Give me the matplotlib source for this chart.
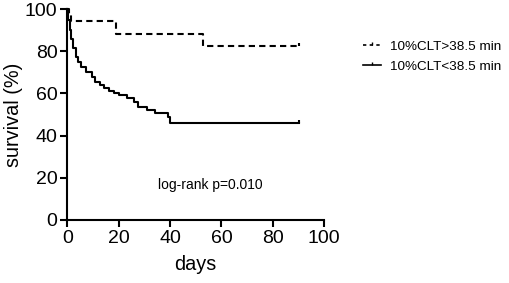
import matplotlib
matplotlib.use('Agg')
import matplotlib.pyplot as plt
from matplotlib.lines import Line2D

plt.rcParams['font.family'] = ['Liberation Sans', 'DejaVu Sans']

# Kaplan-Meier step data (days, survival %)
high_days = [0, 0.6, 1.4, 19, 53, 90]
high_surv = [100, 97, 94.2, 88.3, 82.7, 82.7]

low_days = [0, 0.5, 1.0, 1.5, 2.3, 3.3, 4.3, 5.5, 7.5, 9.5, 11.0, 12.8, 14.3,
            16.3, 18.3, 20, 23.2, 25.8, 27.7, 31, 34.2, 39.4, 40, 90]
low_surv = [100, 95, 90, 86, 81.5, 77.4, 75, 72.7, 70.3, 68, 65.5, 64, 62.4,
            61.2, 60.2, 59.2, 57.6, 56, 53.7, 52.1, 50.5, 49, 46, 46]

labels = ['10%CLT>38.5 min', '10%CLT<38.5 min']

fig = plt.figure(figsize=(5.09, 2.83), dpi=100)
ax = fig.add_axes([0.132, 0.223, 0.505, 0.745])

tick_marker = [(0, 0), (0, 1)]

ax.step(high_days, high_surv, where='post', color='black', lw=1.5,
        linestyle=(0, (3, 2)), clip_on=False)
ax.plot(high_days[-1], high_surv[-1], marker=tick_marker, color='black',
        markersize=5, mew=1.5, clip_on=False)
ax.step(low_days, low_surv, where='post', color='black', lw=1.5, clip_on=False)
ax.plot(low_days[-1], low_surv[-1], marker=tick_marker, color='black',
        markersize=5, mew=1.5, clip_on=False)

ax.set_xlim(0, 100)
ax.set_ylim(0, 100)
ax.set_xticks(range(0, 101, 20))
ax.set_yticks(range(0, 101, 20))
ax.spines['top'].set_visible(False)
ax.spines['right'].set_visible(False)
for s in ['left', 'bottom']:
    ax.spines[s].set_linewidth(1.5)
ax.tick_params(direction='out', length=5, width=1.5, labelsize=14, pad=2)
ax.set_xlabel('days', fontsize=14.3, labelpad=6)
ax.set_ylabel('survival (%)', fontsize=14.3, labelpad=1)

ax.text(55.5, 16.6, 'log-rank p=0.010', ha='center', va='center', fontsize=10)

handles = [
    Line2D([0], [0], color='black', lw=1.2, linestyle=(0, (2, 2)),
           marker=tick_marker, markersize=4),
    Line2D([0], [0], color='black', lw=1.2, marker=tick_marker, markersize=4),
]
fig.legend(handles, labels, loc='upper left', bbox_to_anchor=(0.700, 0.880),
           frameon=False, fontsize=9.7, handlelength=1.3, handletextpad=0.7,
           labelspacing=0.55, borderpad=0, borderaxespad=0.5)

fig.savefig('out.png', dpi=100)
